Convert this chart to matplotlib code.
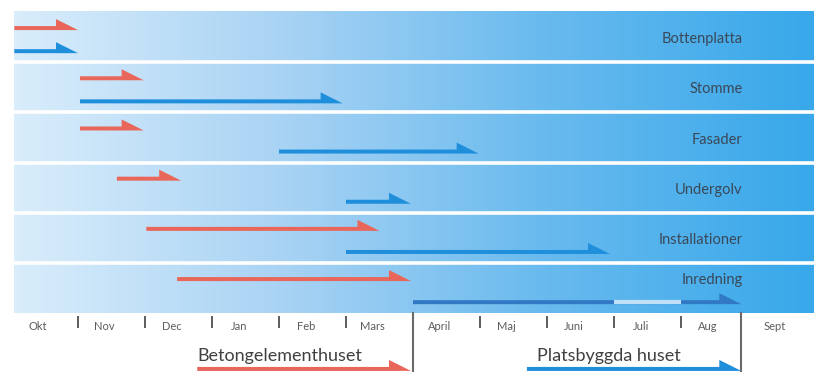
import numpy as np
import matplotlib
matplotlib.use("Agg")
import matplotlib.pyplot as plt
from matplotlib.colors import LinearSegmentedColormap
from matplotlib.patches import Polygon

# months from Okt (0) to Sept (11)
months = ["Okt", "Nov", "Dec", "Jan", "Feb", "Mars",
          "April", "Maj", "Juni", "Juli", "Aug", "Sept"]
tasks = ["Bottenplatta", "Stomme", "Fasader", "Undergolv",
         "Installationer", "Inredning"]

# start / end in months (0 = start of Okt)
beton_start = [0.05, 1.03, 1.03, 1.58, 2.02, 2.48]
beton_end = [1.0, 1.98, 1.98, 2.54, 5.5, 5.97]
plats_start = [0.05, 1.03, 4.0, 5.0, 5.0, 6.0]
plats_end = [1.0, 4.95, 6.98, 5.97, 8.94, 10.9]

# summary
beton_total = (2.78, 5.97)
plats_total = (7.7, 10.9)
divider_x = [6.0, 10.9]
pause_span = (9.0, 10.0)  # light segment in Inredning

RED = "#e8675a"
BLUE = "#1f8fdc"
DARKBLUE = "#3179c4"
TEXT = "#3a4858"
GRAY = "#5c5c5c"

PX_X = 67.0   # pixels per month
PX_Y = 50.2   # pixels per band

fig = plt.figure(figsize=(8.26, 3.83), dpi=100)
ax = fig.add_axes([0, 0, 1, 1])
ax.set_xlim(-11 / PX_X, (826 - 11) / PX_X)
ax.set_ylim((383 - 12) / PX_Y, -12 / PX_Y)
ax.axis("off")

# gradient background
cmap = LinearSegmentedColormap.from_list(
    "bg", ["#d9edfb", "#a9d3f4", "#68baee", "#38a8ea"])
grad = np.linspace(0, 1, 256).reshape(1, -1)
ax.imshow(grad, cmap=cmap, aspect="auto",
          extent=[3 / PX_X, 802 / PX_X, len(tasks), 0], zorder=0)
for i in range(1, len(tasks)):
    ax.axhline(i, xmin=0, xmax=1, color="white", lw=2.6, zorder=1)


def harpoon(x0, x1, y, color, lw=4.0, hl=22, hh=11, z=3):
    """Line with a half arrow head on top, y is line bottom."""
    dx = hl / PX_X
    t = lw / PX_Y
    h = hh / PX_Y
    pts = [(x0, y - t), (x1 - dx, y - t), (x1 - dx, y - h),
           (x1, y), (x0, y)]
    ax.add_patch(Polygon(pts, closed=True, fc=color, ec="none", zorder=z))


for i, name in enumerate(tasks):
    harpoon(beton_start[i], beton_end[i], i + 0.36, RED)
    col = DARKBLUE if i == len(tasks) - 1 else BLUE
    harpoon(plats_start[i], plats_end[i], i + 0.82, col)
    # last label sits higher, above the long arrow
    ty = i + (0.34 if i == len(tasks) - 1 else 0.54)
    ax.text(10.92, ty, name, ha="right", va="center",
            fontsize=10.5, color=TEXT, family="Lato", zorder=4)

# light section of Inredning arrow
ax.plot(pause_span, [5.82 - 2 / PX_Y] * 2, color="#bfe0f7",
        lw=3.0, solid_capstyle="butt", zorder=4)

# month ticks and labels
for m in range(1, 11):
    if m == 6:
        continue
    ax.plot([m, m], [6.08, 6.27], color=GRAY, lw=1.4)
for m, lab in enumerate(months):
    ax.text(m + 0.4, 6.27, lab, ha="center", va="center",
            fontsize=8, color=GRAY, family="Lato")

# dividers
for x in divider_x:
    ax.plot([x, x], [6.0, 7.15], color="#6a6a6a", lw=1.5)

# summary arrows
harpoon(beton_total[0], beton_total[1], 7.15, RED)
harpoon(plats_total[0], plats_total[1], 7.15, BLUE)
ax.text(2.78, 6.85, "Betongelementhuset", ha="left", va="center",
        fontsize=13, color="#404040", family="Lato")
ax.text(10.0, 6.85, "Platsbyggda huset", ha="right", va="center",
        fontsize=13, color="#404040", family="Lato")

fig.savefig("out.png", dpi=100)
